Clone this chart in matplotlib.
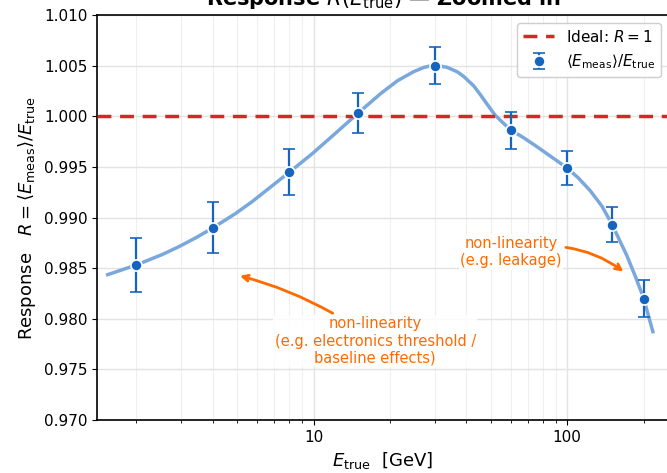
import numpy as np
import matplotlib
matplotlib.use("Agg")
import matplotlib.pyplot as plt

# Measured points
E_true = [2, 4, 8, 15, 30, 60, 100, 150, 200]
R_meas = [0.9853, 0.9890, 0.9945, 1.0003, 1.0050, 0.9986, 0.9949, 0.9893, 0.9820]
R_err = [0.0027, 0.0025, 0.0023, 0.0020, 0.0018, 0.0018, 0.0017, 0.0017, 0.0018]

# Smooth response curve
curve_E = [1.52, 2.0, 2.54, 2.95, 3.43, 4.0, 4.93, 5.74, 6.67, 8.0, 9.88, 12.2,
           15.0, 18.35, 21.4, 24.8, 27.2, 30.0, 33.6, 36.8, 39.0, 42.8, 45.4,
           48.3, 52.0, 56.0, 60.0, 67.3, 76.0, 100.0, 110.8, 123.2, 137.0, 150.0,
           171.8, 185.2, 200.0, 218.6]
curve_R = [0.98430, 0.98531, 0.98636, 0.98713, 0.98799, 0.98896, 0.99040, 0.99159,
           0.99288, 0.99445, 0.99630, 0.99832, 1.00032, 1.00222, 1.00350, 1.00440,
           1.00482, 1.00506, 1.00483, 1.00440, 1.00395, 1.00300, 1.00215, 1.00120,
           1.00010, 0.99932, 0.99864, 0.99788, 0.99699, 0.99489, 0.99389, 0.99265,
           0.99113, 0.98936, 0.98625, 0.98425, 0.98205, 0.97856]

yticks = [0.970, 0.975, 0.980, 0.985, 0.990, 0.995, 1.000, 1.005, 1.010]

fig = plt.figure(figsize=(6.67, 4.73), dpi=100)
ax = fig.add_axes([97/667, 53/473, (669-97)/667, (420-15)/473])

ax.set_xscale("log")
ax.set_xlim(1.4, 252)
ax.set_ylim(0.970, 1.010)
ax.set_yticks(yticks)
ax.set_yticklabels([f"{v:.3f}" for v in yticks])
ax.set_xticks([10, 100])
ax.set_xticklabels(["10", "100"])

ax.grid(True, which="major", color="#e3e3e3", lw=1.0)
ax.grid(True, which="minor", axis="x", color="#efefef", lw=0.8)
ax.set_axisbelow(True)

ax.plot(curve_E, curve_R, color="#7aa8dc", lw=2.5, zorder=2,
        solid_joinstyle="round", solid_capstyle="butt")
ax.axhline(1.0, color="#d62728", ls=(0, (4, 2.5)), lw=2.5, zorder=3, label="Ideal: $R = 1$")
ax.errorbar(E_true, R_meas, yerr=R_err, fmt="o", color="#1565c0", ms=8,
            mec="white", mew=1.2, capsize=4, elinewidth=1.6, capthick=1.6, zorder=4,
            label=r"$\langle E_{\rm meas}\rangle / E_{\rm true}$")

orange = "#ff6a00"
ax.annotate("non-linearity\n(e.g. electronics threshold /\nbaseline effects)",
            xy=(5.0, 0.9843), xytext=(17.5, 0.9778),
            ha="center", va="center", color=orange, fontsize=10.5,
            bbox=dict(boxstyle="square,pad=0.1", fc="white", ec="none", alpha=0.85),
            arrowprops=dict(arrowstyle="->", color=orange, lw=2,
                            connectionstyle="arc3,rad=0.1", shrinkA=2, shrinkB=2))
ax.annotate("non-linearity\n(e.g. leakage)",
            xy=(170, 0.9845), xytext=(60, 0.9866),
            ha="center", va="center", color=orange, fontsize=10.5,
            bbox=dict(boxstyle="square,pad=0.1", fc="white", ec="none", alpha=0.85),
            arrowprops=dict(arrowstyle="->", color=orange, lw=2,
                            connectionstyle="arc3,rad=-0.25", shrinkA=2, shrinkB=2))

ax.set_title(r"Response $R(E_{\rm true})$ — Zoomed in", fontsize=15, fontweight="bold", pad=7)
ax.set_xlabel(r"$E_{\rm true}$  [GeV]", fontsize=13)
ax.set_ylabel(r"Response   $R = \langle E_{\rm meas}\rangle / E_{\rm true}$", fontsize=13)
ax.tick_params(labelsize=11)

for s in ax.spines.values():
    s.set_color("black")
    s.set_linewidth(1.2)

ax.legend(loc="upper right", fontsize=11, framealpha=0.95, edgecolor="#cccccc")

fig.savefig("out.png", dpi=100)
